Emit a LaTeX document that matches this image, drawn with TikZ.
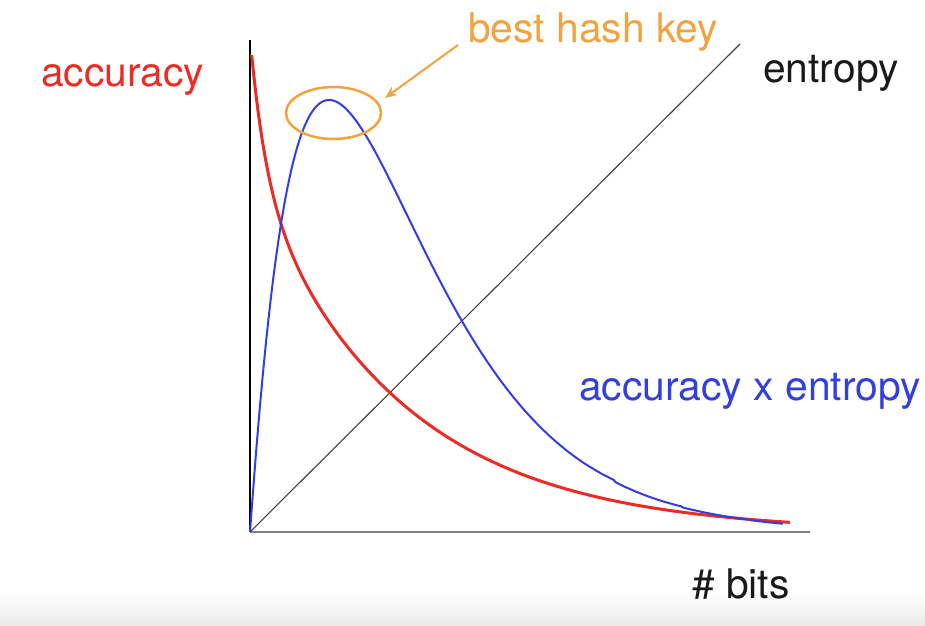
\documentclass[tikz,border=0pt]{standalone}
\usepackage{fontspec}
\setmainfont{TeX Gyre Heros}
\usetikzlibrary{arrows.meta,shapes.geometric}
\definecolor{curvered}{RGB}{238,42,36}
\definecolor{curveblue}{RGB}{48,62,226}
\definecolor{keyorange}{RGB}{242,162,62}
\tikzset{
  label text/.style={font=\fontsize{40.8}{48}\selectfont, inner sep=0pt, anchor=base west},
}
\begin{document}
\begin{tikzpicture}[x=1pt,y=-1pt]
\useasboundingbox (0,0) rectangle (925,625);
% grey band at the bottom
\shade[top color=white, bottom color=black!8] (0,592) rectangle (925,625);
% axes
\coordinate (O) at (250,532);
\coordinate (ytop) at (250,40);
\coordinate (xend) at (810,532);
\draw[line width=1.3pt] (O) -- (ytop);
\draw[line width=2.5pt, black!50] (O) -- (xend);
% entropy
\coordinate (etop) at (740,44);
\draw[line width=1.1pt, black!75] (O) -- (etop);
% accuracy
\draw[curvered, line width=3pt] plot[domain=1.7:540, samples=250] ({250+\x},{532-141*exp(-\x/16)-354*exp(-\x/150)});
% accuracy x entropy
\draw[curveblue, line width=2pt] plot[domain=0.01:533, samples=300] ({250+\x},{532-432*pow((\x/79)*exp(1-\x/79),1.03)});
% best hash key
\node[keyorange, draw, ellipse, line width=2.5pt, minimum width=95pt, minimum height=52pt, inner sep=0pt] (peak) at (333.5,113) {};
\node[label text, keyorange] (key) at (468,42) {best hash key};
\coordinate (keytail) at (458,45);
\draw[keyorange, line width=2pt, -{Stealth[length=12pt,width=10pt]}, shorten >=8pt] (keytail) -- (peak.13);
% labels
\node[label text, curvered] (acc) at (41,86) {accuracy};
\node[label text, black!90] (ent) at (763,82) {entropy};
\node[label text, curveblue] (accent) at (579,400) {accuracy x entropy};
\node[label text, black!90] (bits) at (692,598) {\# bits};
\end{tikzpicture}
\end{document}
